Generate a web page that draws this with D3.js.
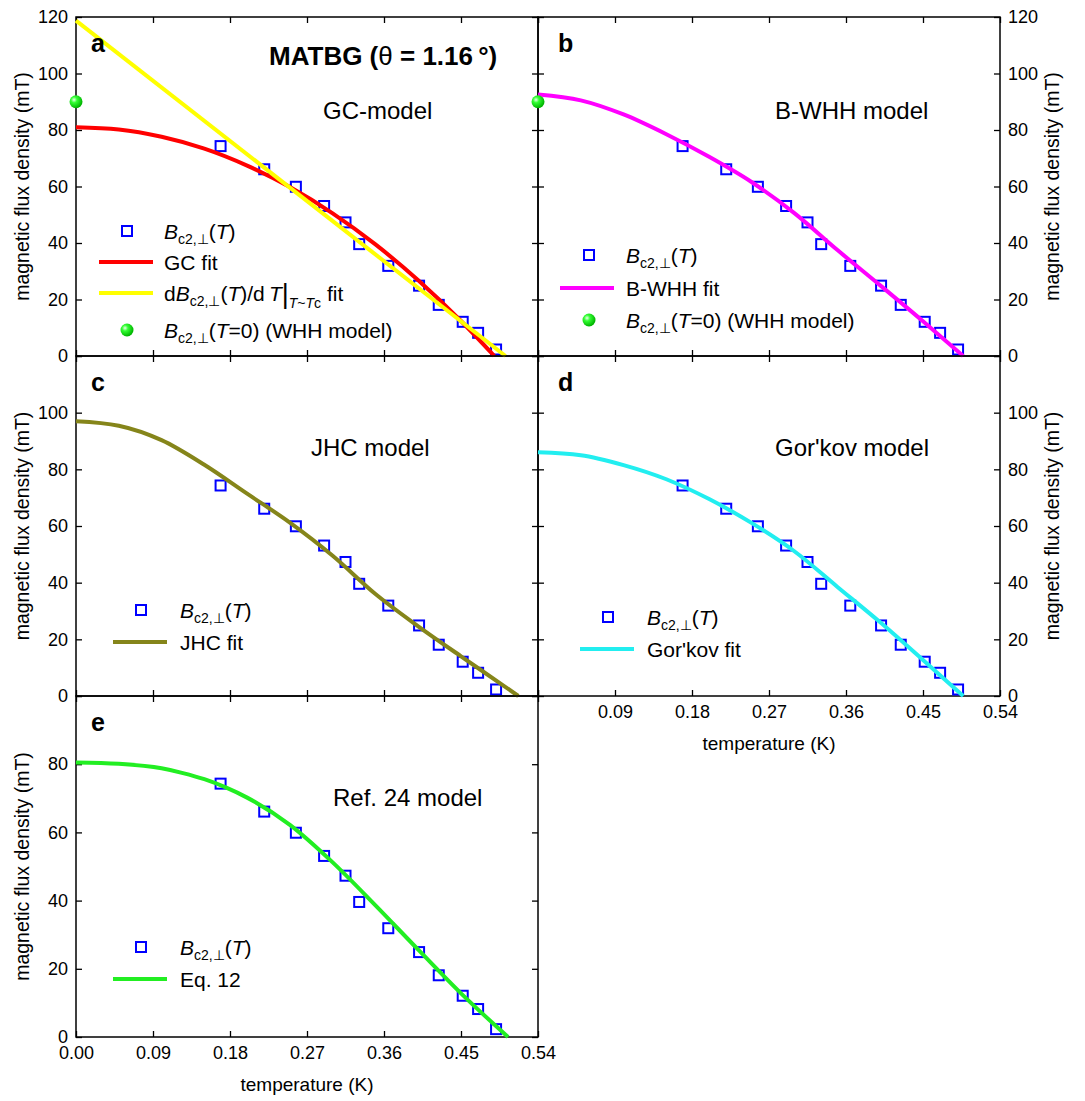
<!DOCTYPE html>
<html>
<head>
<meta charset="utf-8">
<script src="https://cdn.jsdelivr.net/npm/d3@7"></script>
<style>
  body { margin: 0; background: #fff; }
  svg text { font-family: "Liberation Sans", Arial, sans-serif; fill: #000; }
</style>
</head>
<body>
<svg id="chart" width="1085" height="1101"></svg>
<script>
// measured Bc2,perp(T) points (same set in every panel)
const tempK   = [0.169, 0.220, 0.257, 0.290, 0.315, 0.331, 0.365, 0.401, 0.424, 0.452, 0.470, 0.491];
const bc2Perp = [74.3, 66.1, 59.9, 53.1, 47.3, 39.6, 31.9, 24.9, 18.1, 12.1, 8.2, 2.3];

// fit curves
const gcT = [0, 0.05, 0.10, 0.15, 0.20, 0.25, 0.30, 0.35, 0.40, 0.45, 0.489];
const gcB = [81.0, 80.2, 77.6, 73.4, 67.4, 59.8, 50.5, 39.5, 26.8, 12.4, 0];
const slopeT = [0, 0.502];
const slopeB = [118.7, 0];
const whhZeroT = [0];
const whhZeroB = [90.0];
const bwhhT = [0, 0.05, 0.10, 0.15, 0.20, 0.25, 0.30, 0.35, 0.40, 0.45, 0.497];
const bwhhB = [92.6, 90.5, 85.5, 78.5, 70.5, 61.5, 50.5, 37.5, 25.0, 12.3, 0];
const jhcT = [0, 0.05, 0.10, 0.15, 0.20, 0.25, 0.30, 0.35, 0.40, 0.45, 0.50, 0.517];
const jhcB = [97.0, 95.4, 90.3, 81.6, 71.4, 61.2, 49.5, 36.0, 24.6, 14.0, 3.6, 0];
const gorkovT = [0, 0.05, 0.10, 0.15, 0.20, 0.25, 0.30, 0.35, 0.40, 0.45, 0.497];
const gorkovB = [86.0, 85.0, 81.5, 76.5, 69.5, 61.0, 51.0, 38.5, 26.0, 12.7, 0];
const eq12T = [0, 0.05, 0.10, 0.125, 0.15, 0.175, 0.20, 0.25, 0.30, 0.35, 0.40, 0.45, 0.505];
const eq12B = [80.5, 80.1, 78.8, 77.4, 75.6, 73.2, 70.2, 62.2, 51.2, 38.6, 25.6, 12.8, 0];

// ticks
const xTicks = [0, 0.09, 0.18, 0.27, 0.36, 0.45, 0.54];
const yTicks120 = [0, 20, 40, 60, 80, 100, 120];
const yTicks100 = [0, 20, 40, 60, 80, 100];

const zip = (a, b) => a.map((v, i) => ({t: v, b: b[i]}));

const svg = d3.select('#chart');
const W = 462;

const defs = svg.append('defs');
const grad = defs.append('radialGradient').attr('id', 'ball')
  .attr('cx', '35%').attr('cy', '35%').attr('r', '65%');
grad.append('stop').attr('offset', '0%').attr('stop-color', '#eaffea');
grad.append('stop').attr('offset', '35%').attr('stop-color', '#33ff33');
grad.append('stop').attr('offset', '100%').attr('stop-color', '#00b400');

const panels = [
  {id: 'a', x0: 76, y0: 17, h: 339, yMax: 120, yLab: yTicks120, side: 'left', xLab: false,
   fits: [{t: gcT, b: gcB, c: '#ff0000'}, {t: slopeT, b: slopeB, c: '#ffff00'}], dot: true,
   model: {text: 'GC-model', x: 247, y: 102},
   legend: {sq: [51, 213], tx: 88, rows: [222, 253, 284, 321], line: [23, 77],
     items: ['bc2', {name: 'GC fit', c: '#ff0000'}, {name: 'slope', c: '#ffff00'}, 'dot']}},
  {id: 'b', x0: 538, y0: 17, h: 339, yMax: 120, yLab: yTicks120, side: 'right', xLab: false,
   fits: [{t: bwhhT, b: bwhhB, c: '#ff00ff'}], dot: true,
   model: {text: 'B-WHH model', x: 237, y: 102},
   legend: {sq: [51, 238], tx: 88, rows: [246, 279, 311], line: [22, 76],
     items: ['bc2', {name: 'B-WHH fit', c: '#ff00ff'}, 'dot']}},
  {id: 'c', x0: 76, y0: 356, h: 340, yMax: 120, yLab: yTicks100, side: 'left', xLab: false,
   fits: [{t: jhcT, b: jhcB, c: '#85851a'}], dot: false,
   model: {text: 'JHC model', x: 235, y: 100},
   legend: {sq: [65, 253], tx: 104, rows: [262, 294], line: [37, 91],
     items: ['bc2', {name: 'JHC fit', c: '#85851a'}]}},
  {id: 'd', x0: 538, y0: 356, h: 340, yMax: 120, yLab: yTicks100, side: 'right', xLab: 'skip0',
   fits: [{t: gorkovT, b: gorkovB, c: '#22eef0'}], dot: false,
   model: {text: "Gor'kov model", x: 237, y: 100},
   legend: {sq: [70, 261], tx: 109, rows: [269, 301], line: [42, 96],
     items: ['bc2', {name: "Gor'kov fit", c: '#22eef0'}]}},
  {id: 'e', x0: 76, y0: 696, h: 341, yMax: 100, yLab: [0, 20, 40, 60, 80], side: 'left', xLab: 'all',
   fits: [{t: eq12T, b: eq12B, c: '#22ee22'}], dot: false,
   model: {text: 'Ref. 24 model', x: 257, y: 110},
   legend: {sq: [65, 250], tx: 104, rows: [259, 291], line: [37, 91],
     items: ['bc2', {name: 'Eq. 12', c: '#22ee22'}]}}
];

function bc2Label(sel) {
  sel.append('tspan').attr('font-style', 'italic').text('B');
  sel.append('tspan').attr('font-size', 14).attr('dy', 5).text('c2,\u22a5');
  sel.append('tspan').attr('dy', -5).text('(');
  sel.append('tspan').attr('font-style', 'italic').text('T');
}

panels.forEach(p => {
  const g = svg.append('g').attr('transform', `translate(${p.x0},${p.y0})`);
  const x = d3.scaleLinear().domain([0, 0.54]).range([0, W]);
  const y = d3.scaleLinear().domain([0, p.yMax]).range([p.h, 0]);

  const fmtX = p.xLab === 'all' ? d3.format('.2f')
    : p.xLab === 'skip0' ? (d => d === 0 ? '' : d3.format('.2f')(d)) : () => '';

  const axes = [
    g.append('g').call(d3.axisTop(x).tickValues(xTicks).tickSize(-6).tickFormat('')),
    g.append('g').attr('transform', `translate(0,${p.h})`)
      .call(d3.axisBottom(x).tickValues(xTicks).tickSize(-6).tickPadding(9).tickFormat(fmtX)),
    g.append('g').call(d3.axisLeft(y).tickValues(yTicks120.filter(v => v <= p.yMax)).tickSize(-6).tickPadding(8)
      .tickFormat(d => p.side === 'left' && p.yLab.includes(d) ? d : '')),
    g.append('g').attr('transform', `translate(${W},0)`)
      .call(d3.axisRight(y).tickValues(yTicks120.filter(v => v <= p.yMax)).tickSize(-6).tickPadding(8)
      .tickFormat(d => p.side === 'right' && p.yLab.includes(d) ? d : ''))
  ];
  axes.forEach(a => {
    a.select('.domain').remove();
    a.selectAll('line').attr('stroke', '#000').attr('stroke-width', 1.3);
    a.selectAll('text').attr('font-size', 18).attr('font-family', '"Liberation Sans", Arial, sans-serif');
  });

  g.append('rect').attr('width', W).attr('height', p.h)
    .attr('fill', 'none').attr('stroke', '#000').attr('stroke-width', 1.5);

  // axis titles
  const tx = p.side === 'left' ? -47 : W + 59;
  g.append('text').attr('transform', `translate(${tx},${p.h / 2}) rotate(-90)`)
    .attr('text-anchor', 'middle').attr('font-size', 19.5).text('magnetic flux density (mT)');
  if (p.xLab) {
    g.append('text').attr('x', W / 2).attr('y', p.h + 54).attr('text-anchor', 'middle')
      .attr('font-size', 19).text('temperature (K)');
  }

  // data squares
  g.append('g').selectAll('rect').data(zip(tempK, bc2Perp)).join('rect')
    .attr('x', d => x(d.t) - 5).attr('y', d => y(d.b) - 5)
    .attr('width', 10).attr('height', 10)
    .attr('fill', 'none').attr('stroke', '#0000ff').attr('stroke-width', 2);

  // fits
  const line = d3.line().x(d => x(d.t)).y(d => y(d.b)).curve(d3.curveMonotoneX);
  p.fits.forEach(f => {
    g.append('path').datum(zip(f.t, f.b)).attr('d', line)
      .attr('fill', 'none').attr('stroke', f.c).attr('stroke-width', 4);
  });

  if (p.dot) {
    g.append('g').selectAll('circle').data(zip(whhZeroT, whhZeroB)).join('circle')
      .attr('cx', d => x(d.t)).attr('cy', d => y(d.b)).attr('r', 6.5).attr('fill', 'url(#ball)');
  }

  // panel letter, model name
  g.append('text').attr('x', p.side === 'left' ? 15 : 20).attr('y', 35)
    .attr('font-size', 25).attr('font-weight', 'bold').text(p.id);
  g.append('text').attr('x', p.model.x).attr('y', p.model.y).attr('font-size', 24).text(p.model.text);

  if (p.id === 'a') {
    const t = g.append('text').attr('x', 193).attr('y', 48).attr('font-size', 26).attr('font-weight', 'bold');
    t.append('tspan').text('MATBG (');
    t.append('tspan').attr('font-weight', 'normal').text('\u03b8');
    t.append('tspan').text(' = 1.16\u2009\u00b0)');
  }

  // legend
  const L = p.legend;
  L.items.forEach((it, i) => {
    const by = L.rows[i];
    const cy = by - 8;
    const t = g.append('text').attr('x', L.tx).attr('y', by).attr('font-size', 21);
    if (it === 'bc2') {
      g.append('rect').attr('x', L.sq[0] - 5).attr('y', cy - 5).attr('width', 10).attr('height', 10)
        .attr('fill', 'none').attr('stroke', '#0000ff').attr('stroke-width', 2);
      bc2Label(t);
      t.append('tspan').text(')');
    } else if (it === 'dot') {
      g.append('circle').attr('cx', L.sq[0]).attr('cy', cy).attr('r', 6.5).attr('fill', 'url(#ball)');
      bc2Label(t);
      t.append('tspan').text('=0) (WHH model)');
    } else if (it.name === 'slope') {
      g.append('line').attr('x1', L.line[0]).attr('x2', L.line[1]).attr('y1', cy).attr('y2', cy)
        .attr('stroke', it.c).attr('stroke-width', 4);
      t.append('tspan').text('d');
      bc2Label(t);
      t.append('tspan').text(')/d\u2009');
      t.append('tspan').attr('font-style', 'italic').text('T');
      t.append('tspan').attr('font-size', 27).attr('dy', 2).text('|');
      t.append('tspan').attr('font-size', 14).attr('dy', 5).attr('font-style', 'italic').text('T');
      t.append('tspan').attr('font-size', 14).text('~');
      t.append('tspan').attr('font-size', 14).attr('font-style', 'italic').text('T');
      t.append('tspan').attr('font-size', 14).text('c');
      t.append('tspan').attr('dy', -7).text(' fit');
    } else {
      g.append('line').attr('x1', L.line[0]).attr('x2', L.line[1]).attr('y1', cy).attr('y2', cy)
        .attr('stroke', it.c).attr('stroke-width', 4);
      t.text(it.name);
    }
  });
});
</script>
</body>
</html>
